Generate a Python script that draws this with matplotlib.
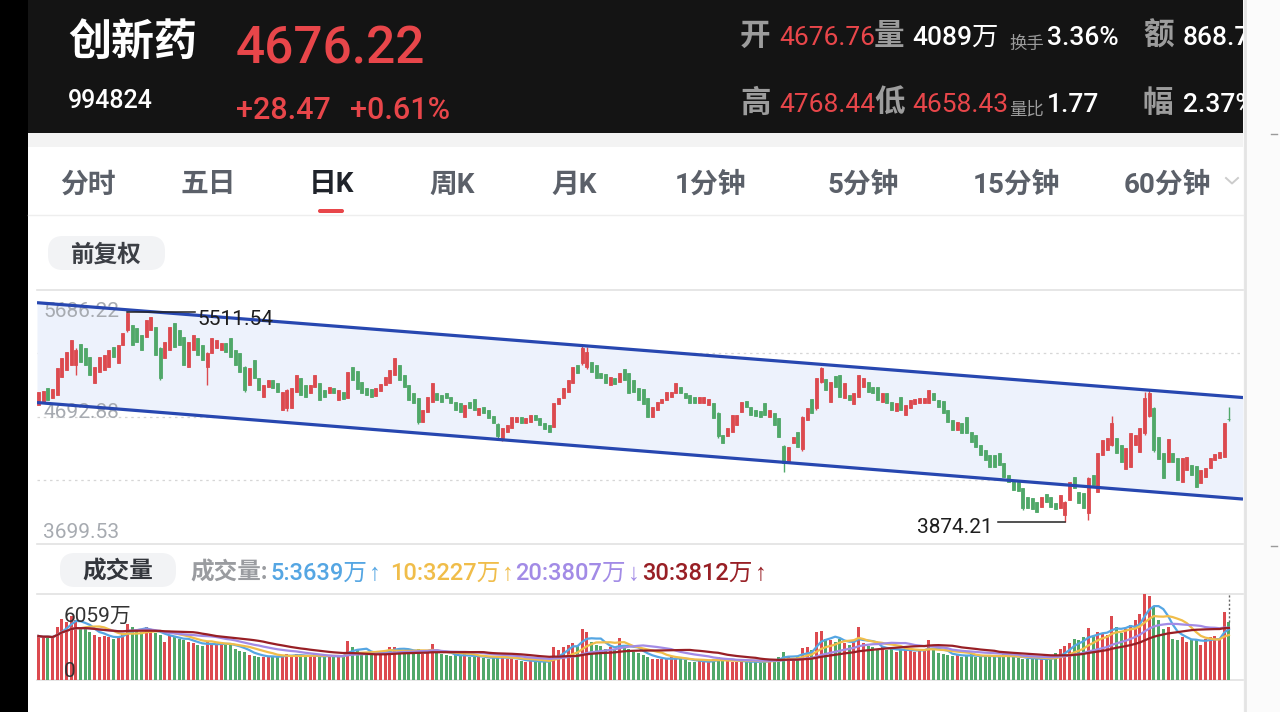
import numpy as np
import pandas as pd
import matplotlib
matplotlib.use("Agg")
import matplotlib.pyplot as plt
from matplotlib.patches import Rectangle, FancyBboxPatch

W, H = 1280, 712
CJK = ["Noto Sans CJK SC", "DejaVu Sans"]
NUM = ["Roboto", "Noto Sans CJK SC", "DejaVu Sans"]
LEG = ["Roboto", "Liberation Sans", "Noto Sans CJK SC", "DejaVu Sans"]

RED = "#dc4a4f"
GREEN = "#50a869"
HDR_RED = "#e8464a"

# === quote header ===
name = "创新药"
code = "994824"
price_now = "4676.22"
price_chg = "+28.47"
price_pct = "+0.61%"

# === tabs ===
tabs = ["分时", "五日", "日K", "周K", "月K", "1分钟", "5分钟", "15分钟", "60分钟"]
tab_x = [88, 208, 331, 452, 574, 710, 863, 1016, 1167]
tab_sel = 2

# === price axis labels ===
y_top, y_mid, y_bot = 5686.22, 4692.88, 3699.53
hi_mark, lo_mark = 5511.54, 3874.21

# === daily candles (index 0 = oldest) ===
opens = [
    4787, 4813, 4917, 4839, 4865, 5008, 5060, 5100, 5100, 5261,
    5230, 5165, 4956, 5047, 5060, 5086, 5243, 5113, 5256, 5373,
    5412, 5386, 5334, 5321, 5373, 5399, 5230, 5152, 5217, 5425,
    5373, 5321, 5086, 5217, 5308, 5256, 5086, 5191, 5230, 5217,
    5269, 5308, 5217, 5191, 5086, 4943, 5139, 4995, 4852, 4930,
    4982, 4956, 4748, 4761, 4761, 4891, 4995, 4943, 4878, 4930,
    4956, 4904, 4878, 4917, 4826, 4891, 4839, 5086, 5055, 4969,
    4917, 4909, 4857, 4899, 4943, 4956, 5021, 5100, 5021, 4943,
    4878, 4839, 4657, 4735, 4813, 4878, 4865, 4878, 4852, 4813,
    4800, 4691, 4813, 4831, 4709, 4769, 4748, 4701, 4638, 4526,
    4578, 4604, 4657, 4691, 4644, 4657, 4709, 4683, 4644, 4630,
    4613, 4795, 4839, 4891, 4956, 5100, 5113, 5086, 5126, 5100,
    5039, 5029, 4943, 4995, 4969, 5065, 5039, 4982, 4917, 4909,
    4839, 4696, 4748, 4800, 4826, 4852, 4878, 4925, 4883, 4865,
    4852, 4800, 4800, 4787, 4800, 4722, 4552, 4544, 4578, 4630,
    4735, 4821, 4769, 4748, 4743, 4800, 4696, 4722, 4683, 4466,
    4331, 4487, 4578, 4440, 4669, 4831, 4761, 4969, 4988, 4813,
    5013, 5021, 4839, 4865, 4795, 4852, 4930, 4969, 4930, 4925,
    4813, 4878, 4813, 4740, 4852, 4709, 4761, 4795, 4800, 4800,
    4800, 4883, 4826, 4821, 4748, 4669, 4591, 4644, 4691, 4578,
    4552, 4474, 4435, 4396, 4396, 4414, 4331, 4239, 4200, 4187,
    4135, 4070, 4057, 4030, 3991, 4091, 4065, 4018, 3978, 3926,
    4043, 4226, 4109, 4096, 3939, 4239, 4109, 4396, 4435, 4474,
    4526, 4474, 4284, 4305, 4474, 4422, 4565, 4700, 4761, 4539,
    4409, 4344, 4414, 4370, 4187, 4278, 4318, 4310, 4174, 4226,
    4292, 4357, 4370, 4383, 4676.76,
]
closes = [
    4891, 4896, 4826, 4912, 5073, 5152, 5204, 5295, 5217, 5126,
    5100, 5021, 5086, 5165, 5178, 5217, 5165, 5256, 5347, 5504,
    5256, 5282, 5217, 5452, 5478, 5178, 4995, 5282, 5399, 5243,
    5256, 5100, 5282, 5334, 5178, 5139, 5191, 5308, 5295, 5269,
    5204, 5165, 5100, 5047, 4904, 5073, 4995, 4904, 4943, 4982,
    4917, 4891, 4891, 4904, 4917, 5021, 4865, 4852, 4943, 5021,
    4826, 4852, 4930, 4878, 4904, 4831, 5047, 4982, 4909, 4878,
    4865, 4852, 4917, 4951, 5008, 5060, 5152, 4982, 4930, 4826,
    4800, 4657, 4748, 4852, 4961, 4826, 4813, 4839, 4800, 4748,
    4735, 4787, 4761, 4748, 4761, 4722, 4683, 4649, 4544, 4604,
    4630, 4696, 4691, 4649, 4688, 4709, 4669, 4630, 4597, 4578,
    4805, 4839, 4917, 4982, 5086, 5034, 5230, 5204, 5047, 4995,
    4995, 4956, 5008, 4951, 5034, 4982, 4878, 4891, 4826, 4795,
    4696, 4774, 4813, 4831, 4891, 4891, 4961, 4883, 4839, 4805,
    4800, 4847, 4847, 4831, 4683, 4544, 4487, 4604, 4709, 4709,
    4813, 4769, 4709, 4701, 4696, 4709, 4748, 4630, 4539, 4331,
    4461, 4539, 4461, 4696, 4761, 4722, 4995, 5073, 4904, 4969,
    4930, 4852, 4956, 4826, 4883, 5021, 4995, 4891, 4883, 4826,
    4878, 4800, 4748, 4800, 4748, 4787, 4826, 4831, 4839, 4839,
    4904, 4826, 4774, 4722, 4657, 4591, 4657, 4565, 4565, 4500,
    4461, 4396, 4357, 4300, 4305, 4318, 4226, 4187, 4122, 4117,
    3978, 3978, 3970, 3952, 4070, 4030, 3991, 3970, 4083, 4030,
    4187, 4135, 4018, 3978, 4213, 4161, 4409, 4513, 4526, 4644,
    4409, 4344, 4448, 4565, 4552, 4604, 4839, 4878, 4435, 4362,
    4213, 4518, 4344, 4200, 4370, 4378, 4239, 4148, 4278, 4292,
    4370, 4404, 4422, 4647.75, 4676.22,
]
# candles with a visible wick beyond the body
wick_idx = [8, 19, 26, 36, 44, 53, 81, 98, 99, 116, 117, 145, 159, 163,
            166, 167, 210, 219, 224, 229, 236, 237, 238, 254]
wick_high = [5230, 5511.54, 5240, 5200, 5095, 4915, 4845, 4645, 4610, 5256,
             5243, 4730, 4475, 4700, 5000, 5086, 4140, 4035, 4220, 4701,
             4891, 4904, 4770, 4768.44]
wick_low = [5021, 5360, 4980, 4943, 4890, 4740, 4640, 4526, 4505, 5100,
            5070, 4530, 4263, 4430, 4750, 4960, 3965, 3874.21, 3887, 4465,
            4555, 4690, 4420, 4658.43]

# === volume, 万 ===
vol_max = 6059
volume = [
    3100, 3000, 3050, 2950, 3700, 4300, 4100, 4500, 4200, 3600,
    3700, 3400, 3200, 3000, 3100, 3000, 2900, 3100, 3300, 3950,
    3700, 3500, 3400, 3700, 3400, 3300, 3200, 2700, 3150, 3000,
    2900, 2800, 2650, 2600, 2450, 2400, 2650, 2600, 2500, 2550,
    2450, 2600, 2200, 2050, 1950, 1750, 1700, 1650, 1600, 1650,
    1700, 1600, 1750, 1800, 1700, 1850, 1650, 1600, 1700, 1800,
    1650, 1600, 1700, 1650, 1750, 1650, 2770, 2350, 2100, 1950,
    1850, 1800, 1900, 2000, 2100, 2300, 2350, 2200, 2050, 1950,
    1900, 2150, 1850, 1950, 2530, 1900, 1800, 1750, 1700, 1750,
    1700, 1800, 1650, 1600, 1650, 1550, 1500, 1550, 1600, 1700,
    1500, 1450, 1400, 1350, 1300, 1350, 1300, 1250, 1300, 1250,
    2350, 2100, 2300, 2500, 2600, 2400, 3600, 3400, 2700, 2500,
    2400, 2200, 2300, 2100, 2950, 2500, 2200, 1950, 1900, 1750,
    1600, 1500, 1450, 1500, 1450, 1600, 1500, 1550, 1400, 1300,
    1250, 1350, 1300, 1250, 1500, 1600, 1450, 1350, 1300, 1250,
    1350, 1300, 1250, 1300, 1200, 1400, 1450, 1500, 1600, 1970,
    1700, 1500, 1600, 2250, 2300, 2100, 3380, 3480, 2900, 2800,
    2700, 2900, 2600, 2500, 2700, 3700, 2600, 2400, 2300, 2200,
    2300, 2100, 2200, 2000, 2100, 2200, 2100, 2000, 2050, 2100,
    2800, 2100, 1900, 1800, 1750, 1700, 1800, 1650, 1700, 1800,
    1650, 1600, 1700, 1750, 1650, 1600, 1800, 1700, 1600, 1550,
    1500, 1450, 1600, 1500, 1450, 1400, 1500, 1900, 2200, 2400,
    2600, 2900, 2800, 3000, 3660, 3100, 3400, 3300, 3200, 4530,
    3700, 3300, 3600, 3900, 4200, 4650, 6059, 5950, 5165, 4200,
    3600, 3700, 2900, 2800, 3000, 2700, 2900, 2800, 2500, 2900,
    3000, 3100, 2900, 4815, 4089,
]
ma_periods = [5, 10, 20, 30]
ma_values = ["5:3639万", "10:3227万", "20:3807万", "30:3812万"]
ma_arrows = ["↑", "↑", "↓", "↑"]
ma_colors = ["#55a6e3", "#f0bd4a", "#a28be6", "#981f25"]

# channel drawn on the chart (start / end)
chan_x = [-0.3, 257.0]
chan_upper = [5587, 4845]
chan_lower = [4806, 4051]

assert len(opens) == len(closes) == len(volume), (len(opens), len(closes), len(volume))

opens = np.array(opens, float)
closes = np.array(closes, float)
volume = np.array(volume, float)
n = len(opens)
x = np.arange(n)
highs = np.maximum(opens, closes)
lows = np.minimum(opens, closes)
highs[wick_idx] = wick_high
lows[wick_idx] = wick_low
colors = np.where(closes >= opens, RED, GREEN)


def box(x0, y0, x1, y1):
    return [x0 / W, 1 - y1 / H, (x1 - x0) / W, (y1 - y0) / H]


def bare(a):
    a.set_xticks([])
    a.set_yticks([])
    for s in a.spines.values():
        s.set_visible(False)


fig = plt.figure(figsize=(12.8, 7.12), dpi=100)

# --- background canvas in pixel coordinates ---
cv = fig.add_axes([0, 0, 1, 1])
cv.set_xlim(0, W)
cv.set_ylim(H, 0)
cv.axis("off")
cv.add_patch(Rectangle((0, 0), 28, H, color="black", lw=0))
cv.add_patch(Rectangle((28, 133), 1215, 14, color="#f3f3f3", lw=0))
cv.add_patch(Rectangle((1243, 0), 37, H, color="#fbfbfb", lw=0))
cv.plot([1244.5, 1244.5], [0, H], color="#e4e4e4", lw=2)
cv.plot([1271, 1277], [134, 134], color="#9a9a9a", lw=1)
cv.plot([1271, 1277], [546, 546], color="#9a9a9a", lw=1)
cv.plot([28, 1243], [215, 215], color="#eeeeee", lw=1)

# tabs
for i, (lab, cx) in enumerate(zip(tabs, tab_x)):
    sel = i == tab_sel
    cv.text(cx, 192.5, lab, ha="center", va="baseline", fontsize=20,
            family=NUM, weight="bold",
            color="#1f232a" if sel else "#5b6069")
cv.add_patch(FancyBboxPatch((318, 209), 26, 4, boxstyle="round,pad=0,rounding_size=2",
                            fc=HDR_RED, ec="none"))
cv.plot([1226, 1232, 1238], [178, 183.5, 178], color="#cccccc", lw=1.4)

# pills
cv.add_patch(FancyBboxPatch((48, 236), 117, 34, boxstyle="round,pad=0,rounding_size=15",
                            fc="#f2f3f5", ec="none"))
cv.text(106.5, 262, "前复权", ha="center", va="baseline", fontsize=17,
        family=CJK, weight="bold", color="#3c3f45")
cv.add_patch(FancyBboxPatch((60, 553), 116, 34, boxstyle="round,pad=0,rounding_size=15",
                            fc="#f2f3f5", ec="none"))
cv.text(118, 579, "成交量", ha="center", va="baseline", fontsize=17,
        family=CJK, weight="bold", color="#33363c")
cv.text(190, 580, "成交量:", ha="left", va="baseline", fontsize=17,
        family=NUM, weight="bold", color="#9a9ca0")
for t, a, c, lx in zip(ma_values, ma_arrows, ma_colors, [270, 390, 515, 642]):
    tt = cv.text(lx, 580, t, ha="left", va="baseline", fontsize=17, family=NUM,
                 weight="medium", color=c)
    cv.annotate(a, xy=(1, 0.5), xycoords=tt, xytext=(1.5, 0),
                textcoords="offset points", ha="left", va="center",
                fontsize=17, family=LEG, color=c)

# --- header ---
hdr = fig.add_axes(box(28, 0, 1243, 133))
hdr.set_xlim(28, 1243)
hdr.set_ylim(133, 0)
hdr.set_facecolor("#141414")
bare(hdr)


def htext(px, py, s, color, size, fam=NUM, weight="normal"):
    hdr.text(px, py, s, color=color, fontsize=size, family=fam, weight=weight,
             ha="left", va="baseline", clip_on=True)


GREY = "#9c9c9c"
htext(68, 55, name, "white", 31, CJK, "bold")
htext(236, 63, price_now, HDR_RED, 37, NUM, "medium")
htext(68, 108, code, "white", 18, NUM, "medium")
htext(236, 119, price_chg, HDR_RED, 22, NUM, "medium")
htext(350, 119, price_pct, HDR_RED, 22, NUM, "medium")

htext(740, 45, "开", GREY, 22, CJK, "bold")
htext(779, 45, "4676.76", HDR_RED, 19)
htext(874, 45, "量", GREY, 22, CJK, "bold")
htext(912, 45, "4089万", "white", 19, NUM, "medium")
htext(1009, 49, "换手", GREY, 12.5, CJK)
htext(1047, 45, "3.36%", "white", 19, NUM, "medium")
htext(1143, 45, "额", GREY, 22, CJK, "bold")
htext(1183, 45, "868.7", "white", 19, NUM, "medium")

htext(740, 112, "高", GREY, 22, CJK, "bold")
htext(779, 112, "4768.44", HDR_RED, 19)
htext(874, 112, "低", GREY, 22, CJK, "bold")
htext(912, 112, "4658.43", HDR_RED, 19)
htext(1009, 115, "量比", GREY, 12.5, CJK)
htext(1047, 112, "1.77", "white", 19, NUM, "medium")
htext(1143, 112, "幅", GREY, 22, CJK, "bold")
htext(1183, 112, "2.37%", "white", 19, NUM, "medium")

# --- price panel ---
ax = fig.add_axes(box(37, 290, 1243, 544))
ax.set_xlim(-0.3, 257)
ax.set_ylim(y_bot, y_top)
ax.set_facecolor("none")
bare(ax)
for yv in (y_top, y_bot):
    ax.axhline(yv, color="#e2e2e2", lw=1.2, clip_on=False, zorder=0)
for f in (0.25, 0.5, 0.75):
    ax.axhline(y_bot + f * (y_top - y_bot), color="#d6d6d6", lw=0.9,
               ls=(0, (2, 3)), zorder=0)

ax.fill_between(chan_x, chan_lower, chan_upper, color="#edf2fc", lw=0, zorder=1)

lab_kw = dict(transform=ax.transAxes, ha="left", va="baseline", fontsize=15,
              family=NUM, color="#a7abb1", zorder=2)
ax.text(0.005, 0.894, f"{y_top:.2f}", **lab_kw)
ax.text(0.005, 0.496, f"{y_mid:.2f}", **lab_kw)
ax.text(0.005, 0.024, f"{y_bot:.2f}", **lab_kw)

ax.vlines(x, lows, highs, colors=colors, lw=1.0, zorder=3)
ax.bar(x, closes - opens, bottom=opens, width=0.64, color=colors,
       edgecolor=colors, linewidth=0.6, zorder=3)

ax.plot(chan_x, chan_upper, color="#2747b0", lw=2.3, zorder=5, solid_capstyle="butt")
ax.plot(chan_x, chan_lower, color="#2747b0", lw=2.3, zorder=5, solid_capstyle="butt")

i_hi = int(np.argmax(highs))
i_lo = int(np.argmin(lows))
ax.plot([i_hi, 33.4], [hi_mark, hi_mark], color="#222222", lw=1.1, zorder=6)
ax.text(33.85, 5412, f"{hi_mark:.2f}", ha="left", va="baseline", fontsize=15,
        family=NUM, color="#1e1e1e", zorder=6)
ax.plot([204.7, i_lo], [lo_mark, lo_mark], color="#222222", lw=1.1, zorder=6)
ax.text(203.7, 3786, f"{lo_mark:.2f}", ha="right", va="baseline", fontsize=15,
        family=NUM, color="#1e1e1e", zorder=6)

# --- volume panel ---
vax = fig.add_axes(box(37, 594, 1243, 680))
vax.set_xlim(-0.3, 257)
vax.set_ylim(0, vol_max)
vax.set_facecolor("none")
bare(vax)
vax.axhline(vol_max, color="#e2e2e2", lw=1.2, clip_on=False, zorder=0)
vax.axhline(0, color="#e2e2e2", lw=1.2, clip_on=False, zorder=0)
vax.bar(x, volume, width=0.64, color=colors, lw=0, zorder=2)
vs = pd.Series(volume)
for p, c in zip(ma_periods, ma_colors):
    vax.plot(x, vs.rolling(p, min_periods=1).mean(), color=c, lw=1.6, zorder=3)
vax.plot([x[-1], x[-1]], [volume[-1], vol_max], color="#666666", lw=1,
         ls=(0, (1.5, 1.5)), zorder=4)
vax.text(0.022, 0.674, f"{vol_max}万", transform=vax.transAxes, ha="left",
         va="baseline", fontsize=15, family=NUM, color="#333333", zorder=5)
vax.text(0.022, 0.035, "0", transform=vax.transAxes, ha="left",
         va="baseline", fontsize=15, family=NUM, color="#333333", zorder=5)

fig.savefig("out.png", dpi=100)
